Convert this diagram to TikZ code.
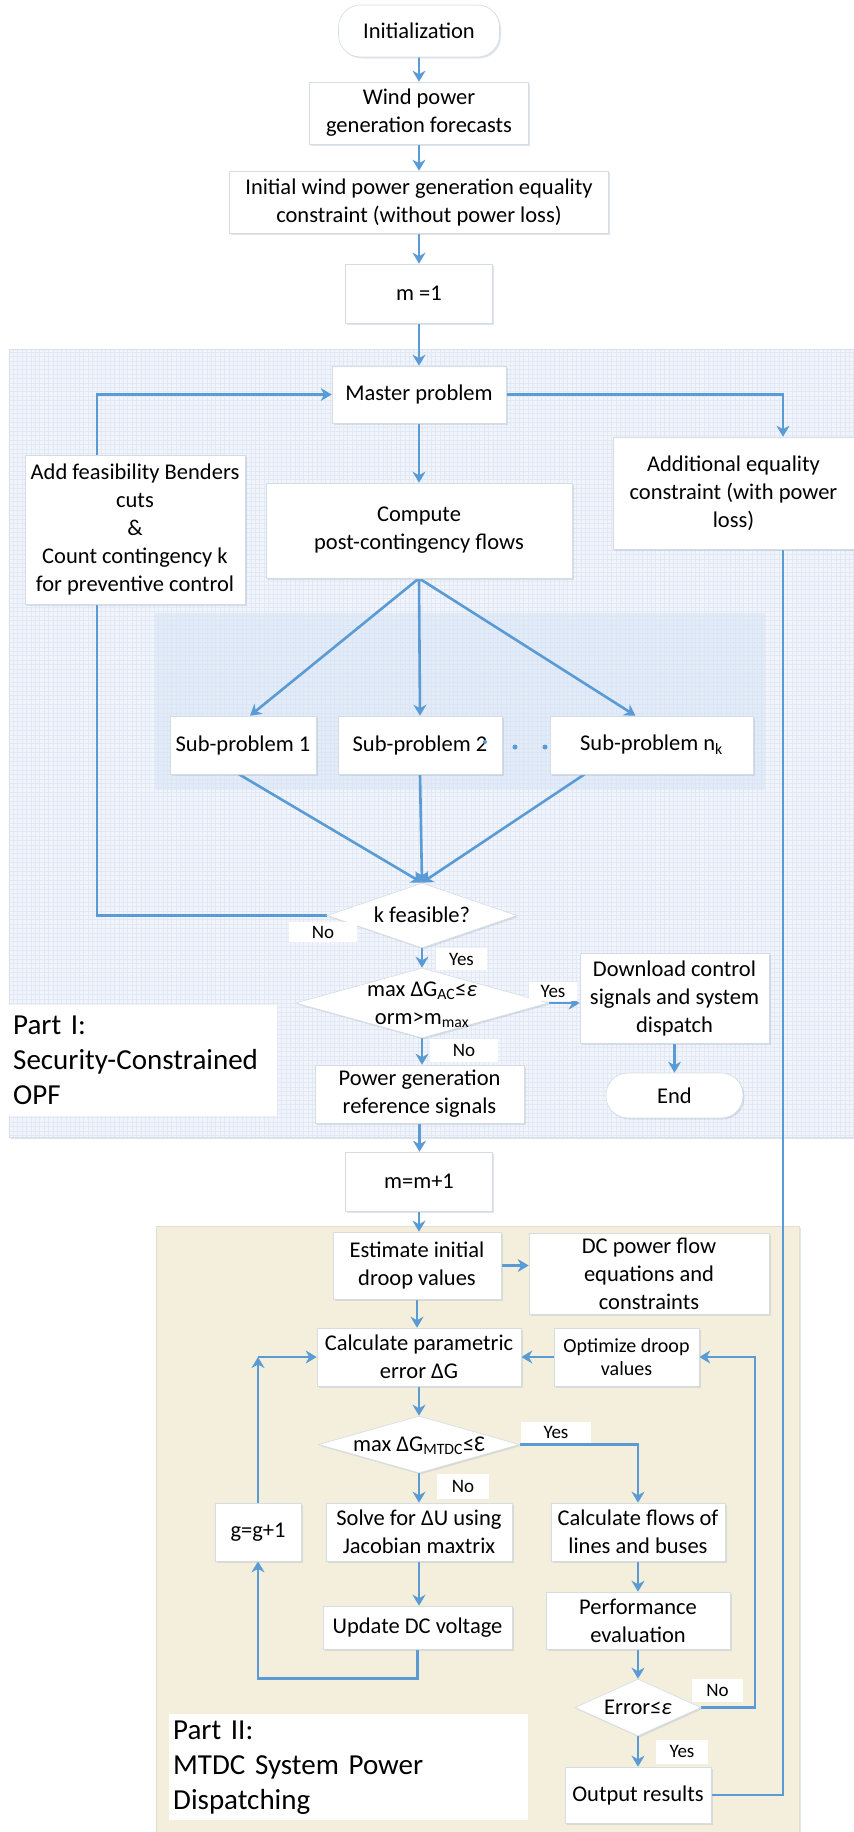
\documentclass[tikz,border=0pt]{standalone}
\usepackage{fontspec}
\setmainfont{Carlito}
\usetikzlibrary{arrows.meta,shapes.geometric,shadows,calc}

\definecolor{flowblue}{HTML}{5B9BD5}
\definecolor{boxline}{HTML}{D5DCE4}
\definecolor{boxshade}{HTML}{9AAABF}
\definecolor{opfback}{HTML}{F1F5FB}
\definecolor{opfgrid}{HTML}{E0E9F4}
\definecolor{opfedge}{HTML}{D6E0EC}
\definecolor{subback}{HTML}{D6E4F4}
\definecolor{mtdcback}{HTML}{F4EFDC}
\definecolor{mtdcedge}{HTML}{E4DFCB}

\newcommand\fsn{\fontsize{22.5}{28}\selectfont}
\newcommand\fss{\fontsize{20}{23.5}\selectfont}
\newcommand\fsl{\fontsize{19}{22}\selectfont}
\newcommand\fsp{\fontsize{29}{35}\selectfont}
% diamond text: zero-size box so the diamond keeps its given size
\newcommand\dtx[1]{\makebox[0pt]{\smash{\raisebox{-0.3em}{\begin{tabular}{@{}c@{}}#1\end{tabular}}}}}

\pgfdeclarelayer{bg}
\pgfdeclarelayer{wires}
\pgfsetlayers{bg,wires,main}

\tikzset{
  softshadow/.style={drop shadow={shadow xshift=1.5pt, shadow yshift=-1.5pt, opacity=0.3, fill=boxshade}},
  box/.style={draw=boxline, fill=white, line width=0.6pt, inner sep=1pt, align=center, font=\fsn, softshadow},
  term/.style={box, rounded corners=22pt},
  dia/.style={shape=diamond, draw=boxline, fill=white, line width=0.6pt, inner sep=0pt, font=\fsn, softshadow},
  lbl/.style={fill=white, inner sep=0pt, font=\fsl},
  flow/.style={draw=flowblue, line width=2.6pt, -{Stealth[length=11pt,width=13pt,inset=3.5pt]}},
  wire/.style={draw=flowblue, line width=2.6pt},
  partlbl/.style={fill=white, inner xsep=4pt, inner ysep=0pt, align=left, font=\fsp, anchor=north west},
}

\begin{document}
\begin{tikzpicture}[x=1pt,y=-1pt]
\useasboundingbox (0,0) rectangle (854,1832);

% ---------- boxes ----------
\node[term, minimum width=161pt, minimum height=52pt] (init) at (419,31) {Initialization};
\node[box, minimum width=219pt, minimum height=62pt] (wind) at (419,113) {Wind power\\generation forecasts};
\node[box, minimum width=379pt, minimum height=62pt] (eqc) at (419,202) {Initial wind power generation equality\\constraint (without power loss)};
\node[box, minimum width=147pt, minimum height=59pt] (m1) at (419,293.5) {m =1};
\node[box, minimum width=174pt, minimum height=57pt] (master) at (419,394.5) {Master problem};
\node[box, minimum width=220pt, minimum height=149pt] (cuts) at (135,529.5) {Add feasibility Benders\\cuts\\\&\\Count contingency k\\for preventive control};
\node[box, minimum width=306pt, minimum height=95pt] (post) at (419,530.5) {Compute\\post-contingency flows};
\node[box, minimum width=241pt, minimum height=112pt] (extra) at (733.5,493) {Additional equality\\constraint (with power\\loss)};
\node[box, minimum width=146pt, minimum height=58pt] (sp1) at (243,745) {Sub-problem 1};
\node[box, minimum width=164pt, minimum height=58pt] (sp2) at (420,745) {Sub-problem 2};
\node[box, minimum width=203pt, minimum height=58pt] (spn) at (651.5,745) {Sub-problem n\textsubscript{k}};
\fill[flowblue] (485,742) circle (2pt);
\fill[flowblue] (515,747) circle (2.5pt);
\fill[flowblue] (545,747) circle (2.5pt);

\node[dia, minimum width=190pt, minimum height=65pt] (feas) at (422,915.5) {\dtx{k feasible?}};
\node[dia, minimum width=253pt, minimum height=70pt] (conv) at (422,1003) {\dtx{max ΔG\textsubscript{AC}≤\textit{ε}\\orm>m\textsubscript{max}}};
\node[box, minimum width=189pt, minimum height=90pt] (dl) at (674.5,998) {Download control\\signals and system\\dispatch};
\node[term, minimum width=137pt, minimum height=45pt] (stop) at (674.5,1095.5) {End};
\node[box, minimum width=209pt, minimum height=58pt] (ref) at (419.5,1094) {Power generation\\reference signals};
\node[partlbl, minimum width=268pt, minimum height=111pt, text width=260pt] (p1) at (9,1005) {Part I:\\Security-Constrained\\OPF};

\node[box, minimum width=147pt, minimum height=59pt] (mnext) at (419,1181.5) {m=m+1};
\node[box, minimum width=168pt, minimum height=67pt] (droop0) at (417,1265.5) {Estimate initial\\droop values};
\node[box, minimum width=240pt, minimum height=81pt] (dcpf) at (649,1273.5) {DC power flow\\equations and\\constraints};
\node[box, minimum width=204pt, minimum height=58pt] (err) at (419,1357) {Calculate parametric\\error ΔG};
\node[box, font=\fss, minimum width=145pt, minimum height=58pt] (optd) at (626.5,1357) {Optimize droop\\values};
\node[dia, minimum width=201pt, minimum height=57pt] (tol) at (419,1444.5) {\dtx{max ΔG\textsubscript{MTDC}≤Ɛ}};
\node[box, minimum width=186pt, minimum height=58pt] (solve) at (419,1532) {Solve for ΔU using\\Jacobian maxtrix};
\node[box, minimum width=86pt, minimum height=58pt] (inc) at (258,1532) {g=g+1};
\node[box, minimum width=189pt, minimum height=43pt] (upd) at (417.5,1627.5) {Update DC voltage};
\node[box, minimum width=174pt, minimum height=58pt] (flows) at (638,1532) {Calculate flows of\\lines and buses};
\node[box, minimum width=184pt, minimum height=57pt] (perf) at (638,1620.5) {Performance\\evaluation};
\node[dia, minimum width=126pt, minimum height=57pt] (errchk) at (638,1707.5) {\dtx{Error≤\textit{ε}}};
\node[box, minimum width=146pt, minimum height=56pt] (out) at (638,1795) {Output results};
\node[partlbl, minimum width=359pt, minimum height=106pt, text width=351pt] (p2) at (169,1714) {Part II:\\MTDC System Power\\Dispatching};

% ---------- branch labels ----------
\node[lbl, minimum width=68pt, minimum height=20pt] (l1) at (323,932) {No};
\node[lbl, minimum width=51pt, minimum height=22pt] (l2) at (461.5,959) {Yes};
\node[lbl, minimum width=48pt, minimum height=19pt] (l3) at (553,991) {Yes};
\node[lbl, minimum width=68pt, minimum height=23pt] (l4) at (464,1050.5) {No};
\node[lbl, minimum width=70pt, minimum height=21pt] (l5) at (556,1432) {Yes};
\node[lbl, minimum width=52pt, minimum height=25pt] (l6) at (463,1486) {No};
\node[lbl, minimum width=51pt, minimum height=23pt] (l7) at (717.5,1690) {No};
\node[lbl, minimum width=52pt, minimum height=24pt] (l8) at (682,1751.5) {Yes};

\coordinate (lcorner) at (97,394.5);
\coordinate (rcorner) at (783,394.5);
\coordinate (ncorner) at (755,1707.5);

% ---------- connectors ----------
\begin{pgfonlayer}{wires}
\draw[flow] (init.south) -- (init.south |- wind.north);
\draw[flow] (wind.south) -- (wind.south |- eqc.north);
\draw[flow] (eqc.south) -- (eqc.south |- m1.north);
\draw[flow] (m1.south) -- (m1.south |- master.north);
\draw[flow] (master.south) -- (master.south |- post.north);
\draw[flow] (master.east) -- (rcorner) -- (rcorner |- extra.north);
\draw[flow] (feas.west) -| (lcorner) -- (master.west);
\draw[flow] (post.south) -- ([xshift=7pt]sp1.north);
\draw[flow] (post.south) -- (sp2.north);
\draw[flow] (post.south) -- ([xshift=-16pt]spn.north);
\draw[flow] ([xshift=-4pt]sp1.south) -- (feas.north);
\draw[flow] (sp2.south) -- (feas.north);
\draw[flow] ([xshift=-67pt]spn.south) -- (feas.north);
\draw[flow] (feas.south) -- (feas.south |- conv.north);
\draw[flow] (conv.east) -- (conv.east -| dl.west);
\draw[flow] (dl.south) -- (dl.south |- stop.north);
\draw[flow] (conv.south) -- (conv.south |- ref.north);
\draw[flow] (ref.south) -- (ref.south |- mnext.north);
\draw[flow] (mnext.south) -- (mnext.south |- droop0.north);
\draw[flow] (droop0.east) -- (droop0.east -| dcpf.west);
\draw[flow] (droop0.south) -- (droop0.south |- err.north);
\draw[flow] (optd.west) -- (optd.west -| err.east);
\draw[flow] (err.south) -- (err.south |- tol.north);
\draw[flow] (tol.south) -- (tol.south |- solve.north);
\draw[flow] (solve.south) -- (solve.south |- upd.north);
\draw[flow] (upd.south) -- ++(0,29) -| (inc.south);
\draw[flow] (inc.north) -- (inc.north |- err.west);
\draw[flow] (inc.north |- err.west) -- (err.west);
\draw[flow] (tol.east) -| (flows.north);
\draw[flow] (flows.south) -- (flows.south |- perf.north);
\draw[flow] (perf.south) -- (perf.south |- errchk.north);
\draw[flow] (errchk.south) -- (errchk.south |- out.north);
\draw[flow] (errchk.east) -- (ncorner) |- (optd.east);
\draw[wire] (out.east) -| (rcorner |- extra.south);
\end{pgfonlayer}

% ---------- background panels ----------
\begin{pgfonlayer}{bg}
\fill[white] (0,0) rectangle (854,1832);
\path[fill=opfback, softshadow] (9,349) rectangle (854,1137);
\draw[opfgrid, line width=0.35pt, step=4.4pt] (9,1137) grid (854,349);
\draw[opfedge, line width=0.6pt] (854,349) -- (9,349) -- (9,1137) -- (854,1137);
\fill[subback, opacity=0.55] (155,613) rectangle (765,790);
\path[fill=mtdcback, draw=mtdcedge, line width=0.6pt, softshadow] (156,1226) rectangle (799,1836);
\end{pgfonlayer}
\end{tikzpicture}
\end{document}
